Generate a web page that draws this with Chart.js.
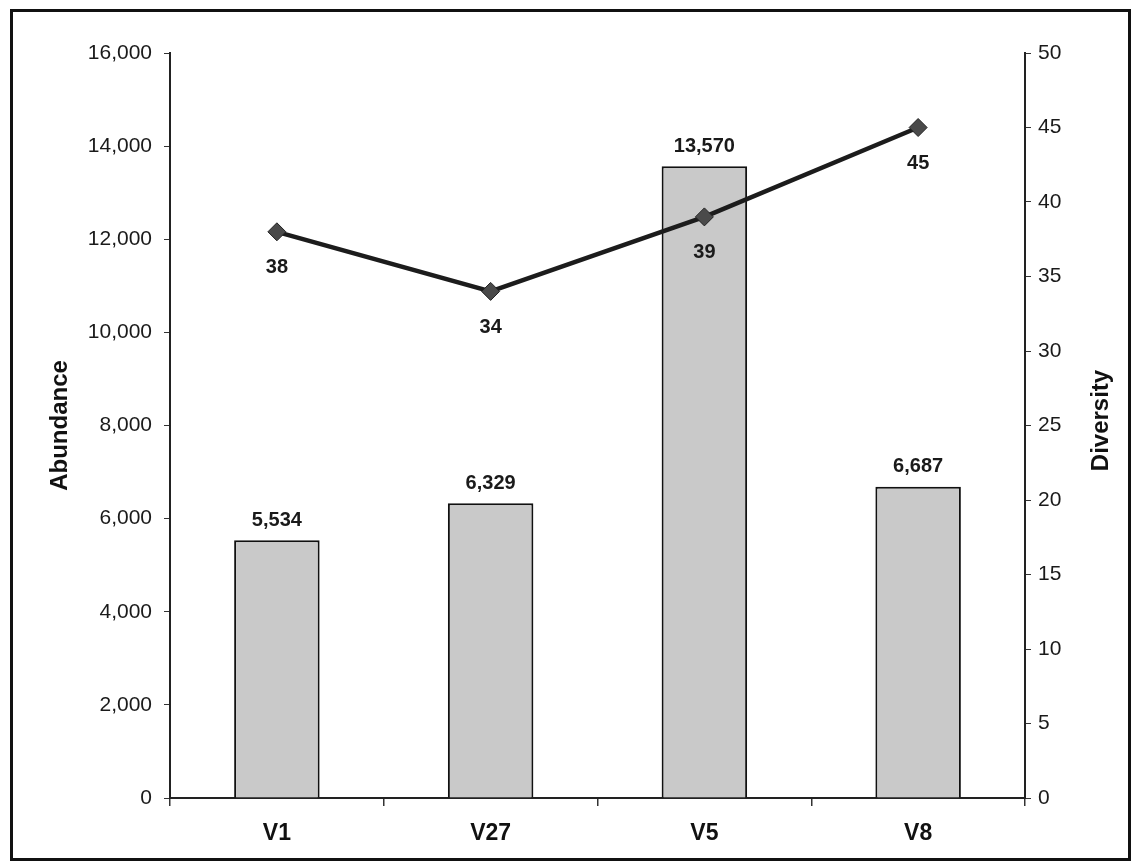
<!DOCTYPE html>
<html>
<head>
<meta charset="utf-8">
<script src="https://cdn.jsdelivr.net/npm/chart.js@4.4.0/dist/chart.umd.min.js"></script>
<style>
    body { margin: 0; background: #fff; }
    canvas { display: block; }
</style>
</head>
<body>
<canvas id="abundanceChart" width="1133" height="863"></canvas>
<script>
const sites = ['V1', 'V27', 'V5', 'V8'];
const abundance = [5534, 6329, 13570, 6687];
const diversity = [38, 34, 39, 45];
const abundanceTicks = [0, 2000, 4000, 6000, 8000, 10000, 12000, 14000, 16000];
const diversityTicks = [0, 5, 10, 15, 20, 25, 30, 35, 40, 45, 50];

const fmt = v => v.toLocaleString('en-US');

// frame round the whole chart, and the two rotated axis titles
const framePlugin = {
    id: 'frame',
    afterDraw(chart) {
        const ctx = chart.ctx;
        const area = chart.chartArea;
        ctx.save();
        ctx.strokeStyle = '#111';
        ctx.lineWidth = 3;
        ctx.strokeRect(11.5, 10.5, 1118, 849);

        ctx.fillStyle = '#111';
        ctx.font = 'bold 24px "Liberation Sans", Arial, sans-serif';
        ctx.textAlign = 'center';
        ctx.textBaseline = 'middle';
        const midY = (area.top + area.bottom) / 2;
        ctx.translate(60, midY);
        ctx.rotate(-Math.PI / 2);
        ctx.fillText('Abundance', 0, 0);
        ctx.restore();

        ctx.save();
        ctx.fillStyle = '#111';
        ctx.font = 'bold 24px "Liberation Sans", Arial, sans-serif';
        ctx.textAlign = 'center';
        ctx.textBaseline = 'middle';
        ctx.translate(1101, midY - 5);
        ctx.rotate(-Math.PI / 2);
        ctx.fillText('Diversity', 0, 0);
        ctx.restore();
    }
};

// value labels: above each bar, below each line point
const valueLabels = {
    id: 'valueLabels',
    afterDatasetsDraw(chart) {
        const ctx = chart.ctx;
        ctx.save();
        ctx.fillStyle = '#1a1a1a';
        ctx.font = 'bold 20px "Liberation Sans", Arial, sans-serif';
        ctx.textAlign = 'center';
        ctx.textBaseline = 'middle';
        chart.getDatasetMeta(1).data.forEach((bar, i) => {
            ctx.fillText(fmt(abundance[i]), bar.x, bar.y - 20);
        });
        chart.getDatasetMeta(0).data.forEach((pt, i) => {
            ctx.fillText(String(diversity[i]), pt.x, pt.y + 36);
        });
        ctx.restore();
    }
};

const ctx = document.getElementById('abundanceChart').getContext('2d');
new Chart(ctx, {
    data: {
        labels: sites,
        datasets: [
            {
                type: 'line',
                label: 'Diversity',
                data: diversity,
                yAxisID: 'y1',
                order: 1,
                borderColor: '#1c1c1c',
                borderWidth: 4.5,
                pointStyle: 'rectRot',
                pointRadius: 9,
                pointBackgroundColor: '#4a4a4a',
                pointBorderColor: '#222',
                pointBorderWidth: 1,
                tension: 0
            },
            {
                type: 'bar',
                label: 'Abundance',
                data: abundance,
                yAxisID: 'y',
                order: 2,
                backgroundColor: '#c9c9c9',
                borderColor: '#111',
                borderWidth: 2,
                barPercentage: 0.4,
                categoryPercentage: 1
            }
        ]
    },
    options: {
        responsive: false,
        animation: false,
        layout: { padding: { top: 53, left: 0, right: 0, bottom: 0 } },
        plugins: {
            legend: { display: false },
            tooltip: { enabled: false }
        },
        scales: {
            x: {
                grid: { offset: true, drawOnChartArea: false, tickLength: 8, color: '#333', lineWidth: 1.5 },
                border: { color: '#222', width: 2 },
                ticks: {
                    color: '#111',
                    padding: 14,
                    font: { family: '"Liberation Sans", Arial, sans-serif', size: 23, weight: 'bold' }
                },
                afterFit(scale) { scale.height = 65; }
            },
            y: {
                position: 'left',
                min: 0,
                max: 16000,
                afterBuildTicks(scale) { scale.ticks = abundanceTicks.map(v => ({ value: v })); },
                grid: { drawOnChartArea: false, tickLength: 6, color: '#333' },
                border: { color: '#222', width: 2 },
                ticks: {
                    color: '#1a1a1a',
                    padding: 12,
                    font: { family: '"Liberation Sans", Arial, sans-serif', size: 21 },
                    callback: v => fmt(v)
                },
                afterFit(scale) { scale.width = 170; }
            },
            y1: {
                position: 'right',
                min: 0,
                max: 50,
                afterBuildTicks(scale) { scale.ticks = diversityTicks.map(v => ({ value: v })); },
                grid: { drawOnChartArea: false, tickLength: 6, color: '#333' },
                border: { color: '#222', width: 2 },
                ticks: {
                    color: '#1a1a1a',
                    padding: 7,
                    font: { family: '"Liberation Sans", Arial, sans-serif', size: 21 }
                },
                afterFit(scale) { scale.width = 108; }
            }
        }
    },
    plugins: [framePlugin, valueLabels]
});
</script>
</body>
</html>
